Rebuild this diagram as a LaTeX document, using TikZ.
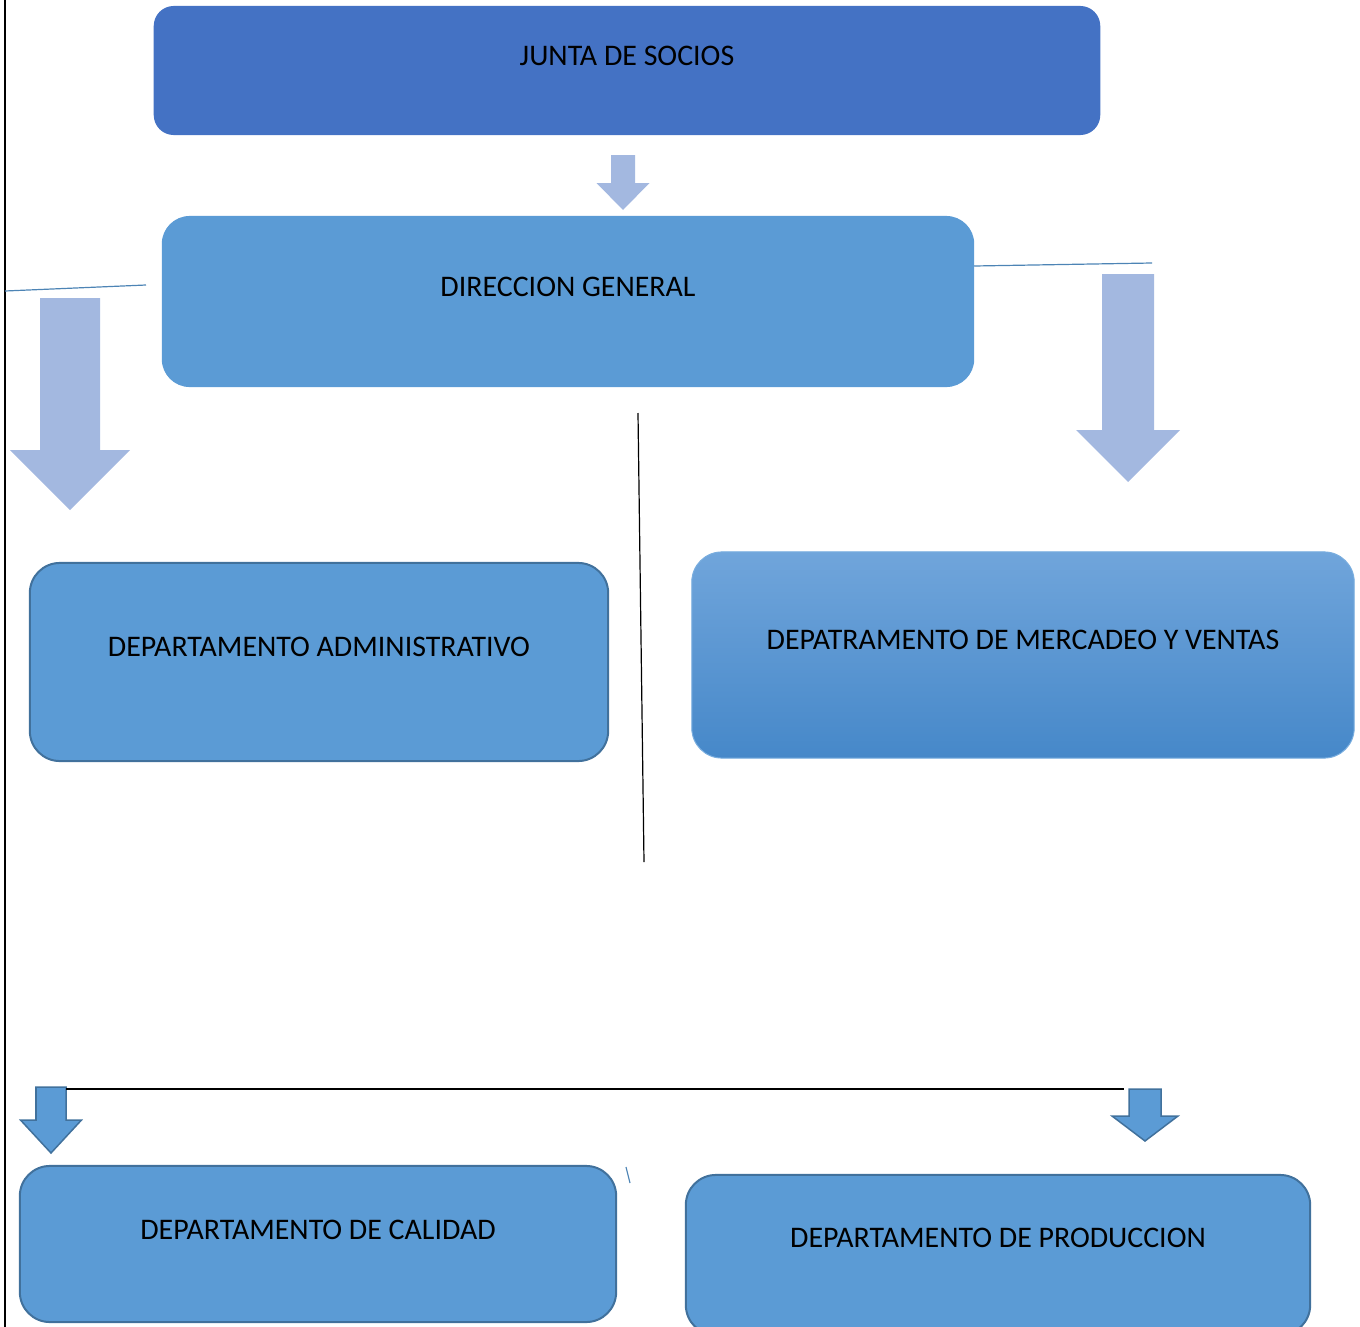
\documentclass[tikz,border=0pt]{standalone}
\usepackage{fontspec}
\setmainfont{Carlito}
\usetikzlibrary{positioning}

\definecolor{juntaBlue}{HTML}{4472C4}
\definecolor{boxBlue}{HTML}{5B9BD5}
\definecolor{boxLine}{HTML}{41719C}
\definecolor{arrLight}{HTML}{A3B8E0}
\definecolor{gradTop}{HTML}{70A5DB}
\definecolor{gradBot}{HTML}{4688C9}
\definecolor{gradLine}{HTML}{7AAEDF}

% block arrow pointing down: style, x, top, shaft half, head half, head y, tip y
\newcommand{\downblk}[7]{%
  \path[#1] (#2-#4,#3) -- (#2+#4,#3) -- (#2+#4,#6) -- (#2+#5,#6) -- (#2,#7)
    -- (#2-#5,#6) -- (#2-#4,#6) -- cycle;}

\begin{document}
\begin{tikzpicture}
[x=0.01cm,y=-0.01cm,
 every node/.style={font=\fontsize{8.5}{10}\selectfont,inner sep=0mm,outer sep=0mm,text height=0.19cm},
 box/.style={rectangle,fill=boxBlue,align=center},
 dept/.style={box,draw=boxLine,line width=0.02cm,rounded corners=0.3cm},
 blk/.style={fill=arrLight},
 blkd/.style={fill=boxBlue,draw=boxLine,line width=0.015cm,line join=miter},
 link/.style={draw=boxBlue!85!black,line width=0.012cm},
 rule/.style={draw=black,line width=0.012cm}]
\useasboundingbox (0,0) rectangle (1360,1327);

\node[box,fill=juntaBlue,rounded corners=0.2cm,minimum width=9.46cm,minimum height=1.29cm,text depth=0.29cm] (junta) at (627,70.5) {JUNTA DE SOCIOS};
\node[box,rounded corners=0.28cm,minimum width=8.12cm,minimum height=1.71cm,text depth=0.29cm] (dirG) at (568,301.5) {DIRECCION GENERAL};
\node[dept,minimum width=5.78cm,minimum height=1.98cm,text depth=0.30cm] (admin) at (319,662) {DEPARTAMENTO ADMINISTRATIVO};
\node[box,top color=gradTop,bottom color=gradBot,draw=gradLine,line width=0.01cm,rounded corners=0.3cm,minimum width=6.62cm,minimum height=2.06cm,text depth=0.30cm] (merc) at (1023,655) {DEPATRAMENTO DE MERCADEO Y VENTAS};
\node[dept,minimum width=5.96cm,minimum height=1.56cm,text depth=0.28cm] (cal) at (318,1244) {DEPARTAMENTO DE CALIDAD};
\node[dept,minimum width=6.24cm,minimum height=1.60cm,text depth=0.34cm] (prod) at (998,1255) {DEPARTAMENTO DE PRODUCCION};

% arrows
\downblk{blk}{623}{155}{12}{26.5}{183}{210}
\downblk{blk}{70}{298}{30}{60}{450}{510}
\downblk{blk}{1128}{274}{26}{52}{430}{482}
\downblk{blkd}{51}{1087}{15}{30.5}{1120}{1153}
\downblk{blkd}{1145}{1089}{16}{33}{1116}{1141}

% loose lines
\coordinate (edgeT) at (5,0);
\coordinate (edgeB) at (5,1327);
\coordinate (lA) at (5,291);
\coordinate (lB) at (146,285);
\coordinate (rB) at (1152,263);
\coordinate (vA) at (638,413);
\coordinate (vB) at (644,862);
\coordinate (hA) at (66,1089);
\coordinate (hB) at (1124,1089);
\coordinate (tA) at (626,1167);
\coordinate (tB) at (630,1183);
\path[draw=black,line width=0.022cm] (edgeT) -- (edgeB);
\path[link] (lA) -- (lB);
\path[link] (dirG.east |- 0,266) -- (rB);
\path[rule] (vA) -- (vB);
\path[rule] (hA) -- (hB);
\path[link] (tA) -- (tB);
\end{tikzpicture}
\end{document}
